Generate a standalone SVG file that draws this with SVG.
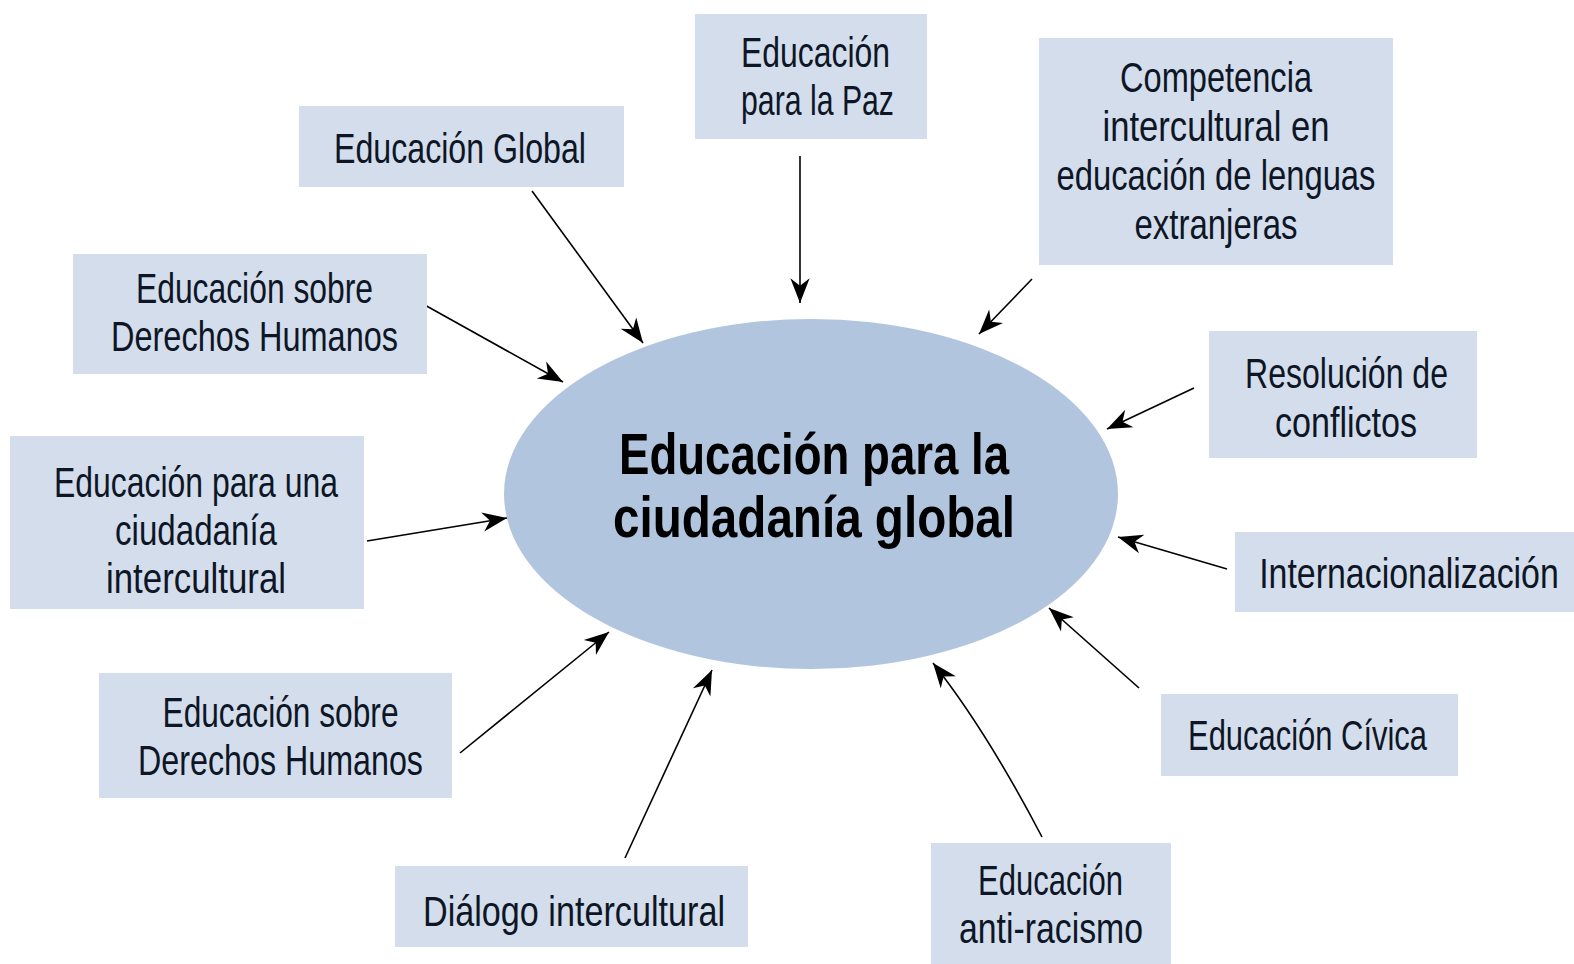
<svg xmlns="http://www.w3.org/2000/svg" width="1574" height="964" viewBox="0 0 1574 964">
<style>
.box{fill:#d3ddeb;}
.lbl{font-family:"Liberation Sans","Noto Sans",sans-serif;font-size:42px;fill:#0e1626;text-anchor:middle;}
.ctr{font-family:"Liberation Sans","Noto Sans",sans-serif;font-size:57px;font-weight:bold;fill:#000;text-anchor:middle;}
.con{stroke:#000;stroke-width:1.6;fill:none;marker-end:url(#ah);}
</style>
<defs>
<marker id="ah" markerUnits="userSpaceOnUse" markerWidth="30" markerHeight="30" viewBox="-24 -12 28 24" refX="0" refY="0" orient="auto">
<path d="M0,0 L-23,-9 L-16,0 L-23,9 Z" fill="#000"/>
</marker>
</defs>
<rect width="1574" height="964" fill="#fff"/>
<g id="center">
<ellipse cx="811" cy="494" rx="307" ry="175" fill="#b2c5de"/>
<text class="ctr" x="814" y="474" textLength="390" lengthAdjust="spacingAndGlyphs">Educación para la</text>
<text class="ctr" x="814" y="537" textLength="402" lengthAdjust="spacingAndGlyphs">ciudadanía global</text>
</g>
<g id="connectors">
<line class="con" x1="800" y1="156" x2="800" y2="303"/>
<line class="con" x1="532" y1="191" x2="643" y2="343"/>
<line class="con" x1="1032" y1="279" x2="979" y2="334"/>
<line class="con" x1="423" y1="304" x2="563" y2="382"/>
<line class="con" x1="1194" y1="388" x2="1107" y2="429"/>
<line class="con" x1="367" y1="541" x2="507" y2="518"/>
<line class="con" x1="1227" y1="569" x2="1118" y2="537"/>
<line class="con" x1="1139" y1="688" x2="1049" y2="608"/>
<path class="con" d="M1042,837 Q986,730 933,663"/>
<line class="con" x1="625" y1="858" x2="712" y2="670"/>
<line class="con" x1="460" y1="753" x2="609" y2="632"/>
</g>
<g id="paz">
<rect class="box" x="695" y="14" width="232" height="125"/>
<text class="lbl" x="815.5" y="67" textLength="149" lengthAdjust="spacingAndGlyphs">Educación</text>
<text class="lbl" x="817.5" y="115" textLength="153" lengthAdjust="spacingAndGlyphs">para la Paz</text>
</g>
<g id="global">
<rect class="box" x="299" y="106" width="325" height="81"/>
<text class="lbl" x="460" y="163" textLength="252" lengthAdjust="spacingAndGlyphs">Educación Global</text>
</g>
<g id="competencia">
<rect class="box" x="1039" y="38" width="354" height="227"/>
<text class="lbl" x="1216" y="92" textLength="192" lengthAdjust="spacingAndGlyphs">Competencia</text>
<text class="lbl" x="1216" y="141" textLength="227" lengthAdjust="spacingAndGlyphs">intercultural en</text>
<text class="lbl" x="1216" y="190" textLength="319" lengthAdjust="spacingAndGlyphs">educación de lenguas</text>
<text class="lbl" x="1216" y="239" textLength="163" lengthAdjust="spacingAndGlyphs">extranjeras</text>
</g>
<g id="dh-top">
<rect class="box" x="73" y="254" width="354" height="120"/>
<text class="lbl" x="254.5" y="303" textLength="237" lengthAdjust="spacingAndGlyphs">Educación sobre</text>
<text class="lbl" x="254.5" y="351" textLength="287" lengthAdjust="spacingAndGlyphs">Derechos Humanos</text>
</g>
<g id="resolucion">
<rect class="box" x="1209" y="331" width="268" height="127"/>
<text class="lbl" x="1346.5" y="388" textLength="203" lengthAdjust="spacingAndGlyphs">Resolución de</text>
<text class="lbl" x="1346" y="437" textLength="142" lengthAdjust="spacingAndGlyphs">conflictos</text>
</g>
<g id="ciudadania">
<rect class="box" x="10" y="436" width="354" height="173"/>
<text class="lbl" x="196" y="497" textLength="284" lengthAdjust="spacingAndGlyphs">Educación para una</text>
<text class="lbl" x="196" y="545" textLength="162" lengthAdjust="spacingAndGlyphs">ciudadanía</text>
<text class="lbl" x="196" y="593" textLength="180" lengthAdjust="spacingAndGlyphs">intercultural</text>
</g>
<g id="internacionalizacion">
<rect class="box" x="1235" y="532" width="339" height="80"/>
<text class="lbl" transform="translate(1409 588) scale(0.81 1)" x="0" y="0" textLength="370" lengthAdjust="spacingAndGlyphs">Internacionalización</text>
</g>
<g id="dh-bottom">
<rect class="box" x="99" y="673" width="353" height="125"/>
<text class="lbl" x="280.5" y="727" textLength="236" lengthAdjust="spacingAndGlyphs">Educación sobre</text>
<text class="lbl" x="280.5" y="775" textLength="285" lengthAdjust="spacingAndGlyphs">Derechos Humanos</text>
</g>
<g id="civica">
<rect class="box" x="1161" y="694" width="297" height="82"/>
<text class="lbl" x="1307.5" y="750" textLength="239" lengthAdjust="spacingAndGlyphs">Educación Cívica</text>
</g>
<g id="dialogo">
<rect class="box" x="395" y="866" width="353" height="81"/>
<text class="lbl" x="574" y="926" textLength="302" lengthAdjust="spacingAndGlyphs">Diálogo intercultural</text>
</g>
<g id="antirracismo">
<rect class="box" x="931" y="843" width="240" height="121"/>
<text class="lbl" x="1050.5" y="895" textLength="145" lengthAdjust="spacingAndGlyphs">Educación</text>
<text class="lbl" x="1051" y="943" textLength="184" lengthAdjust="spacingAndGlyphs">anti-racismo</text>
</g>
</svg>
